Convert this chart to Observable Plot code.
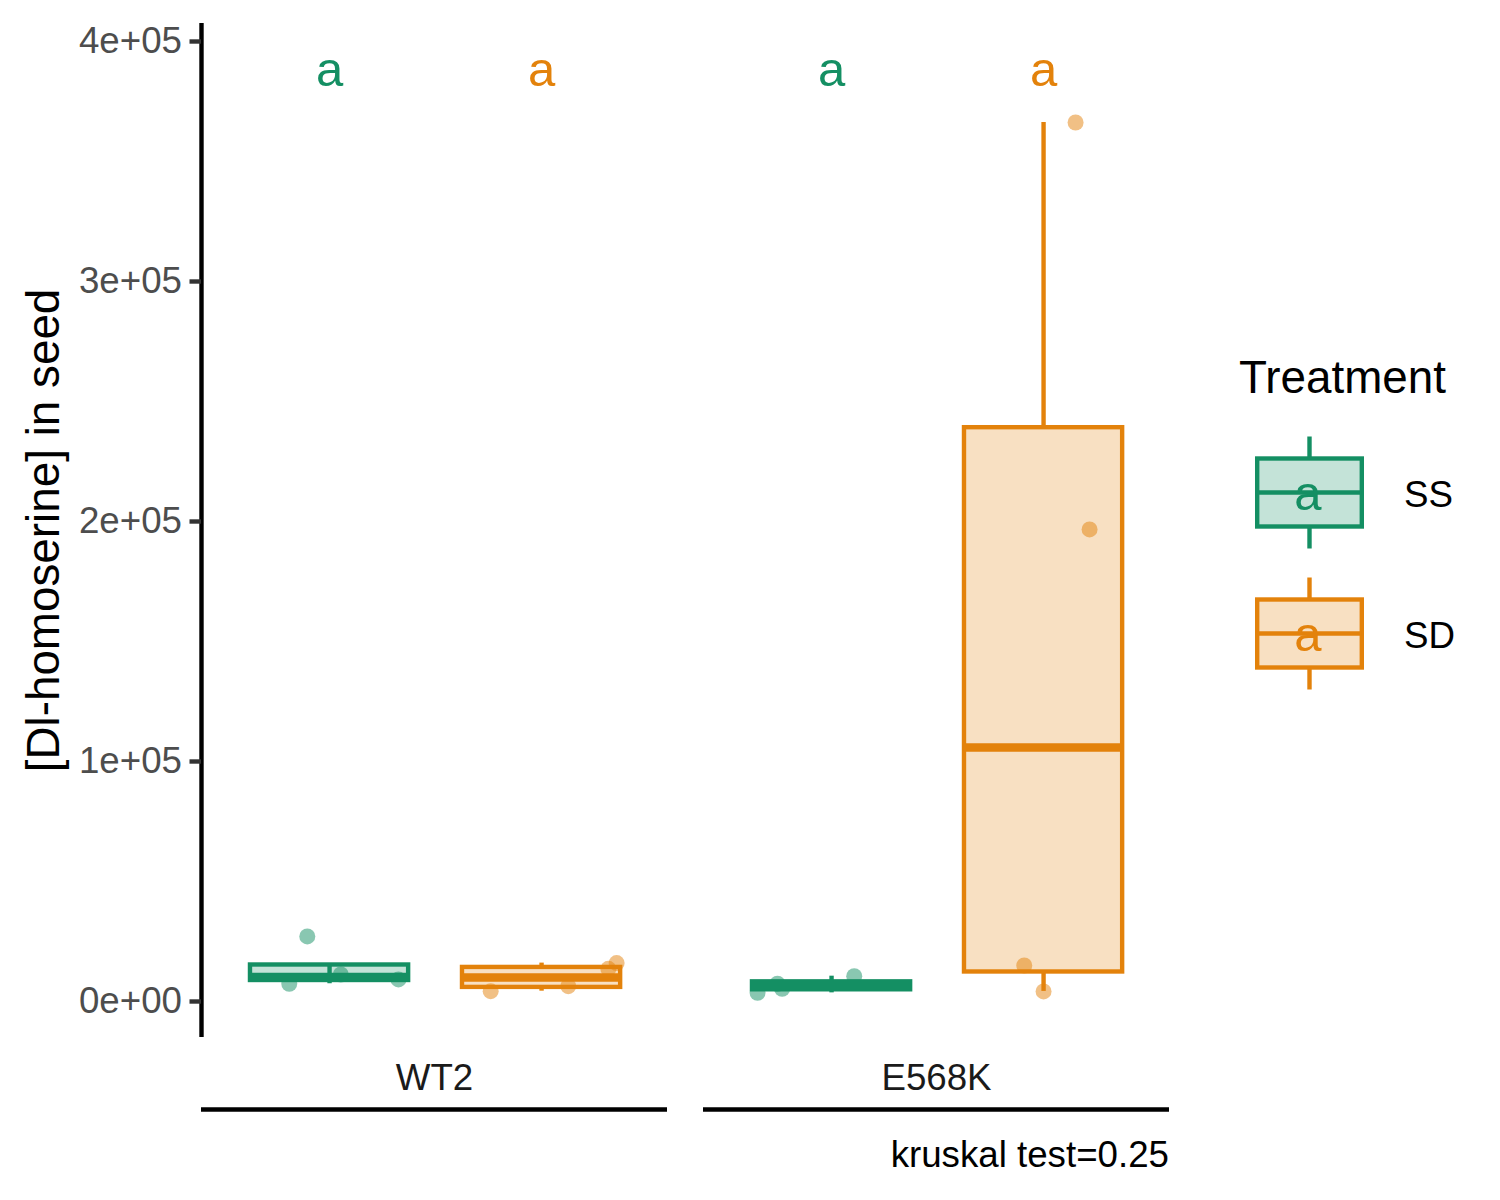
<!DOCTYPE html>
<html>
<head>
<meta charset="utf-8">
<script src="https://cdn.jsdelivr.net/npm/d3@7"></script>
<script src="https://cdn.jsdelivr.net/npm/@observablehq/plot@0.6"></script>
<style>
  html, body { margin: 0; padding: 0; background: #fff; }
  #wrap { position: relative; width: 1500px; height: 1200px; font-family: "Liberation Sans", Arial, Helvetica, sans-serif; }
  #wrap svg { display: block; }
</style>
</head>
<body>
<div id="wrap"></div>
<script>
// ---------------- data ----------------
const genotypes = ["WT2", "E568K"];
const treatments = ["SS", "SD"];
const treatmentColors = ["#148F63", "#E3820B"];

const obsGenotype  = ["WT2","WT2","WT2","WT2", "WT2","WT2","WT2","WT2", "E568K","E568K","E568K","E568K", "E568K","E568K","E568K","E568K"];
const obsTreatment = ["SS","SS","SS","SS", "SD","SD","SD","SD", "SS","SS","SS","SS", "SD","SD","SD","SD"];
const obsValue     = [27100, 7400, 11250, 9200,  4300, 6400, 13600, 16000,  3600, 7400, 5300, 10550,  366250, 196700, 15000, 4200];
const obsJitter    = [-0.105, -0.19, 0.053, 0.325,  -0.24, 0.126, 0.315, 0.354,  -0.349, -0.255, -0.233, 0.107,  0.151, 0.217, -0.091, 0.0];

// significance letters
const letterGenotype  = ["WT2", "WT2", "E568K", "E568K"];
const letterTreatment = ["SS", "SD", "SS", "SD"];
const letterText      = ["a", "a", "a", "a"];
const letterY         = 388000;

// y axis ticks
const yTicks = [0, 100000, 200000, 300000, 400000];
const yTickLabels = ["0e+00", "1e+05", "2e+05", "3e+05", "4e+05"];
const yDomain = [-15000, 407500];
const yTitle = "[Dl-homoserine] in seed";
const legendTitle = "Treatment";
const caption = "kruskal test=0.25";

// ---------------- build tables ----------------
const xDomain = [0.396, 2.594];   // dodge positions 1 (SS), 2 (SD)
const halfW = 0.373;
const posOf = t => treatments.indexOf(t) + 1;

const obs = obsValue.map((v, i) => ({
  genotype: obsGenotype[i], treatment: obsTreatment[i], value: v,
  x: posOf(obsTreatment[i]) + obsJitter[i]
}));

const groups = [];
for (const g of genotypes) {
  for (const t of treatments) {
    const vals = obs.filter(d => d.genotype === g && d.treatment === t).map(d => d.value).sort(d3.ascending);
    const q1 = d3.quantile(vals, 0.25), med = d3.quantile(vals, 0.5), q3 = d3.quantile(vals, 0.75);
    const iqr = q3 - q1;
    const lo = d3.min(vals.filter(v => v >= q1 - 1.5 * iqr));
    const hi = d3.max(vals.filter(v => v <= q3 + 1.5 * iqr));
    const pos = posOf(t);
    groups.push({genotype: g, treatment: t, pos, x1: pos - halfW, x2: pos + halfW, q1, med, q3, lo, hi});
  }
}

const letters = letterText.map((s, i) => ({
  genotype: letterGenotype[i], treatment: letterTreatment[i], text: s, pos: posOf(letterTreatment[i]), y: letterY
}));

const LW = 4.4;

const chart = Plot.plot({
  width: 1500,
  height: 1200,
  marginTop: 23,
  marginBottom: 163,
  marginLeft: 200,
  marginRight: 331,
  style: {fontFamily: "'Liberation Sans', Arial, Helvetica, sans-serif", background: "white", overflow: "visible"},
  fx: {domain: genotypes, paddingInner: 0.072, paddingOuter: 0, label: null},
  x: {domain: xDomain, axis: null},
  y: {domain: yDomain},
  color: {domain: treatments, range: treatmentColors},
  marks: [
    // y axis line (left panel only)
    Plot.ruleX([{genotype: genotypes[0], x: xDomain[0]}], {fx: "genotype", x: "x", stroke: "black", strokeWidth: LW}),
    // underline for facet labels
    Plot.ruleY([yDomain[0]], {dy: 72, stroke: "black", strokeWidth: LW}),
    // jittered points
    Plot.dot(obs, {fx: "genotype", x: "x", y: "value", r: 8, fill: "treatment", fillOpacity: 0.5, stroke: null}),
    // whiskers
    Plot.ruleX(groups, {fx: "genotype", x: "pos", y1: "lo", y2: "q1", stroke: "treatment", strokeWidth: LW}),
    Plot.ruleX(groups, {fx: "genotype", x: "pos", y1: "q3", y2: "hi", stroke: "treatment", strokeWidth: LW}),
    // boxes
    Plot.rect(groups, {fx: "genotype", x1: "x1", x2: "x2", y1: "q1", y2: "q3", fill: "treatment", fillOpacity: 0.25, stroke: "treatment", strokeWidth: LW}),
    // medians
    Plot.ruleY(groups, {fx: "genotype", y: "med", x1: "x1", x2: "x2", stroke: "treatment", strokeWidth: 8.4}),
    // letters
    Plot.text(letters, {fx: "genotype", x: "pos", y: "y", text: "text", fill: "treatment", fontSize: 49, lineAnchor: "middle"}),
    // axes
    Plot.axisY(yTicks, {anchor: "left", tickFormat: (d, i) => yTickLabels[i], tickSize: 11.5, tickPadding: 8,
      fontSize: 36.7, fill: "#4D4D4D", stroke: "#333333", strokeWidth: LW, label: null}),
    Plot.text([{genotype: genotypes[0], t: yTitle}], {fx: "genotype", text: "t", frameAnchor: "left", rotate: -90,
      dx: -157, fontSize: 45.8, fill: "black", lineAnchor: "middle", textAnchor: "middle"}),
    Plot.axisFx({anchor: "bottom", tickSize: 0, tickPadding: 26, fontSize: 36.7, fill: "#1A1A1A", label: null})
  ]
});

const wrap = document.getElementById("wrap");
wrap.appendChild(chart);

// ---------------- legend & caption overlay ----------------
const ov = d3.select(wrap).append("svg")
  .attr("width", 1500).attr("height", 1200)
  .style("position", "absolute").style("left", "0px").style("top", "0px")
  .style("pointer-events", "none")
  .style("font-family", "'Liberation Sans', Arial, Helvetica, sans-serif");

ov.append("text").attr("x", 1239).attr("y", 393).attr("font-size", 45.8).attr("fill", "black").text(legendTitle);

treatments.forEach((t, i) => {
  const c = treatmentColors[i];
  const cy = 492.5 + i * 141;    // median line of key
  const cx = 1309.5;
  const g = ov.append("g");
  g.append("line").attr("x1", cx).attr("x2", cx).attr("y1", cy - 56).attr("y2", cy - 34).attr("stroke", c).attr("stroke-width", LW);
  g.append("line").attr("x1", cx).attr("x2", cx).attr("y1", cy + 34).attr("y2", cy + 56).attr("stroke", c).attr("stroke-width", LW);
  g.append("rect").attr("x", 1257.2).attr("y", cy - 34).attr("width", 104.6).attr("height", 68)
    .attr("fill", c).attr("fill-opacity", 0.25).attr("stroke", c).attr("stroke-width", LW);
  g.append("line").attr("x1", 1257.2).attr("x2", 1361.8).attr("y1", cy).attr("y2", cy).attr("stroke", c).attr("stroke-width", LW);
  g.append("text").attr("x", cx - 1.5).attr("y", cy + 17).attr("text-anchor", "middle").attr("font-size", 49)
    .attr("fill", c).text(letterText[0]);
  g.append("text").attr("x", 1404).attr("y", cy + 14).attr("font-size", 36.7).attr("fill", "black").text(t);
});

ov.append("text").attr("x", 1169).attr("y", 1167).attr("text-anchor", "end").attr("font-size", 36.7).attr("fill", "black").text(caption);
</script>
</body>
</html>
